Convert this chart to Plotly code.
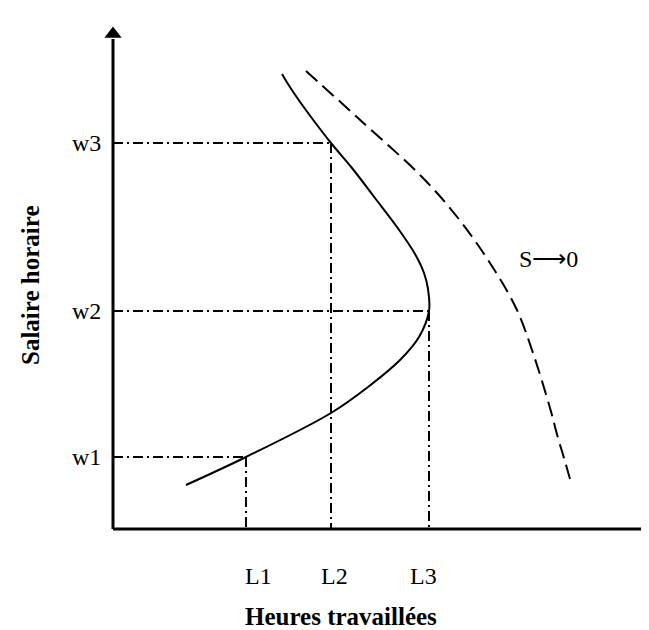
import plotly.graph_objects as go

# Wage levels (vertical axis) and hours levels (horizontal axis)
w_labels = ["w1", "w2", "w3"]
w_values = [72, 218, 386]
L_labels = ["L1", "L2", "L3"]
L_values = [133, 218, 316]
# which hours level each wage level projects onto (w1->L1, w2->L3, w3->L2)
w_to_L = [133, 316, 218]

# Backward-bending labour supply curve (hours, wage)
supply_hours = [73, 133, 218, 255, 288, 306, 316, 315, 311, 302, 284, 262, 239, 218, 201, 185, 175, 169]
supply_wage = [44, 72, 116, 142, 170, 192, 218, 240, 256, 275, 302, 331, 361, 386, 408, 430, 445, 455]

# Supply curve when S -> 0 (dashed)
s0_hours = [193, 245, 310, 345, 375, 403, 420, 437, 445, 451, 457]
s0_wage = [458, 411, 351, 311, 269, 221, 176, 121, 91, 71, 50]

FONT = "Liberation Serif"
AX_X_MAX = 540
AX_Y_MAX = 490
L_label_shift = [12, 3, -6]

fig = go.Figure()

# Reference dash-dot lines
dd = "10px,4px,2px,4px"
for wv, lv in zip(w_values, w_to_L):
    fig.add_trace(go.Scatter(x=[0, lv], y=[wv, wv], mode="lines",
                             line=dict(color="black", width=2, dash=dd), hoverinfo="skip"))
    fig.add_trace(go.Scatter(x=[lv, lv], y=[wv, 0], mode="lines",
                             line=dict(color="black", width=2, dash=dd), hoverinfo="skip"))

# Curves
fig.add_trace(go.Scatter(x=supply_hours, y=supply_wage, mode="lines",
                         line=dict(color="black", width=2, shape="spline", smoothing=1.0)))
fig.add_trace(go.Scatter(x=s0_hours, y=s0_wage, mode="lines",
                         line=dict(color="black", width=2, dash="15px,7px", shape="spline", smoothing=1.0)))

# Axes
fig.add_trace(go.Scatter(x=[0, AX_X_MAX], y=[0, 0], mode="lines",
                         line=dict(color="black", width=3), cliponaxis=False))
fig.add_trace(go.Scatter(x=[0, 0], y=[0, AX_Y_MAX], mode="lines",
                         line=dict(color="black", width=3), cliponaxis=False))
fig.add_trace(go.Scatter(x=[542], y=[0], mode="markers", cliponaxis=False,
                         marker=dict(symbol="triangle-right", size=15, color="black")))
fig.add_trace(go.Scatter(x=[0], y=[495], mode="markers", cliponaxis=False,
                         marker=dict(symbol="triangle-up", size=15, color="black")))

annotations = []
for lab, wv in zip(w_labels, w_values):
    annotations.append(dict(x=-10, y=wv, text=lab, showarrow=False, xanchor="right",
                            yanchor="middle", font=dict(family=FONT, size=24, color="black")))
for lab, lv, sh in zip(L_labels, L_values, L_label_shift):
    annotations.append(dict(x=lv + sh, y=-47, text=lab, showarrow=False, xanchor="center",
                            yanchor="middle", font=dict(family=FONT, size=24, color="black")))
annotations.append(dict(x=435, y=270, text="S⟶0", showarrow=False, xanchor="center",
                        yanchor="middle", font=dict(family=FONT, size=24, color="black")))
annotations.append(dict(x=228, y=-103, text="<b>Heures travaillées</b>", showarrow=False,
                        xanchor="center", yanchor="bottom",
                        font=dict(family=FONT, size=25, color="black")))
annotations.append(dict(x=-83, y=243, text="<b>Salaire horaire</b>", showarrow=False,
                        textangle=-90, xanchor="center", yanchor="middle",
                        font=dict(family=FONT, size=25, color="black")))

fig.update_layout(
    width=649, height=630,
    margin=dict(l=0, r=0, t=0, b=0),
    paper_bgcolor="white", plot_bgcolor="white",
    showlegend=False,
    xaxis=dict(range=[-105, 544], visible=False, fixedrange=True),
    yaxis=dict(range=[-109, 521], visible=False, fixedrange=True),
    annotations=annotations,
)

fig.write_html("out.html")
